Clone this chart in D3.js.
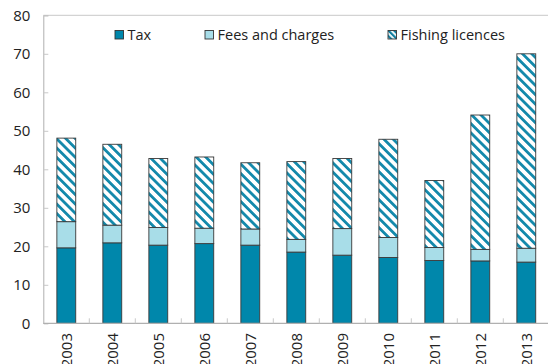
<!DOCTYPE html>
<html>
<head>
<meta charset="utf-8">
<script src="https://cdn.jsdelivr.net/npm/d3@7/dist/d3.min.js"></script>
<style>
  html, body { margin: 0; padding: 0; background: #fff; }
  svg { display: block; font-family: "Open Sans", "Noto Sans", sans-serif; }
</style>
</head>
<body>
<svg id="chart" width="548" height="364"></svg>
<script>
const years = ["2003","2004","2005","2006","2007","2008","2009","2010","2011","2012","2013"];
const tax = [19.6, 20.9, 20.3, 20.7, 20.3, 18.5, 17.7, 17.1, 16.3, 16.2, 15.9];
const fees = [6.8, 4.6, 4.6, 4.0, 4.2, 3.3, 6.9, 5.2, 3.4, 3.0, 3.6];
const fishing = [21.7, 21.0, 17.9, 18.5, 17.2, 20.2, 18.2, 25.5, 17.4, 34.9, 50.5];
const seriesNames = ["Tax", "Fees and charges", "Fishing licences"];
const yTicks = [0, 10, 20, 30, 40, 50, 60, 70, 80];

const svg = d3.select("#chart");
const plotLeft = 43.3, plotRight = 549.3, plotTop = 15.3, plotBottom = 323.3;

const x = d3.scaleBand().domain(years).range([plotLeft, plotRight]).paddingInner(0.59).paddingOuter(0.295);
const band = d3.scaleBand().domain(years).range([plotLeft, plotRight]);
const y = d3.scaleLinear().domain([0, 80]).range([plotBottom, plotTop]);

// diagonal stripe fill for fishing licences
const defs = svg.append("defs");
const pat = defs.append("pattern")
  .attr("id", "stripes")
  .attr("patternUnits", "userSpaceOnUse")
  .attr("width", 6.6).attr("height", 6.6)
  .attr("patternTransform", "rotate(-45)");
pat.append("rect").attr("width", 6.6).attr("height", 6.6).attr("fill", "#fff");
pat.append("rect").attr("x", 0).attr("width", 2.8).attr("height", 6.6).attr("fill", "#1389ab");

const lp = defs.append("pattern")
  .attr("id", "legendStripes")
  .attr("patternUnits", "userSpaceOnUse")
  .attr("width", 4).attr("height", 4)
  .attr("patternTransform", "rotate(-45)");
lp.append("rect").attr("width", 4).attr("height", 4).attr("fill", "#fff");
lp.append("rect").attr("width", 2.2).attr("height", 4).attr("fill", "#0f7fa0");

const colors = ["#0087ab", "#a8dde8", "url(#stripes)"];

const rows = years.map((yr, i) => ({ year: yr, Tax: tax[i], "Fees and charges": fees[i], "Fishing licences": fishing[i] }));
const stacked = d3.stack().keys(seriesNames)(rows);

// top edge of the plot frame
svg.append("line").attr("x1", plotLeft).attr("x2", 548).attr("y1", plotTop).attr("y2", plotTop)
  .attr("stroke", "#c8c8c8").attr("stroke-width", 1);

// bars
stacked.forEach((s, k) => {
  svg.append("g").selectAll("rect").data(s).join("rect")
    .attr("x", d => x(d.data.year))
    .attr("width", x.bandwidth())
    .attr("y", d => y(d[1]))
    .attr("height", d => y(d[0]) - y(d[1]))
    .attr("fill", colors[k])
    .attr("stroke", "#3a3a3a")
    .attr("stroke-width", 0.9);
});

// y axis
const yAxis = d3.axisLeft(y).tickValues(yTicks).tickSize(-5).tickPadding(13);
const gy = svg.append("g").attr("transform", `translate(${plotLeft},0)`).call(yAxis);
gy.select(".domain").attr("stroke", "#b0b0b0");
gy.selectAll(".tick line").attr("stroke", "#c8c8c8");
gy.selectAll(".tick text").attr("font-size", 15).attr("fill", "#222")
  .attr("font-family", "'Open Sans', 'Noto Sans', sans-serif");
gy.selectAll(".tick").filter(d => d === 0).select("line").remove();

// x axis line and category separators
svg.append("line").attr("x1", plotLeft).attr("x2", 548).attr("y1", plotBottom).attr("y2", plotBottom)
  .attr("stroke", "#b0b0b0").attr("stroke-width", 1.2);
svg.append("g").selectAll("line").data(years.slice(1)).join("line")
  .attr("x1", d => band(d)).attr("x2", d => band(d))
  .attr("y1", plotBottom).attr("y2", plotBottom - 5)
  .attr("stroke", "#c8c8c8");

// rotated year labels, running off the bottom edge of the figure
svg.append("g").selectAll("text").data(years).join("text")
  .attr("transform", d => `translate(${band(d) + band.bandwidth() / 2 + 5.5},333) rotate(-90)`)
  .attr("text-anchor", "end")
  .attr("font-size", 15)
  .attr("fill", "#222")
  .text(d => d);

// legend
const legendX = [115, 205, 388];
const lg = svg.append("g");
seriesNames.forEach((name, i) => {
  lg.append("rect").attr("x", legendX[i]).attr("y", 30.5).attr("width", 8.5).attr("height", 8.5)
    .attr("fill", i === 2 ? "url(#legendStripes)" : colors[i])
    .attr("stroke", "#333").attr("stroke-width", 0.9);
  lg.append("text").attr("x", legendX[i] + 12.5).attr("y", 40)
    .attr("font-size", 14.5).attr("fill", "#222").text(name);
});
</script>
</body>
</html>
